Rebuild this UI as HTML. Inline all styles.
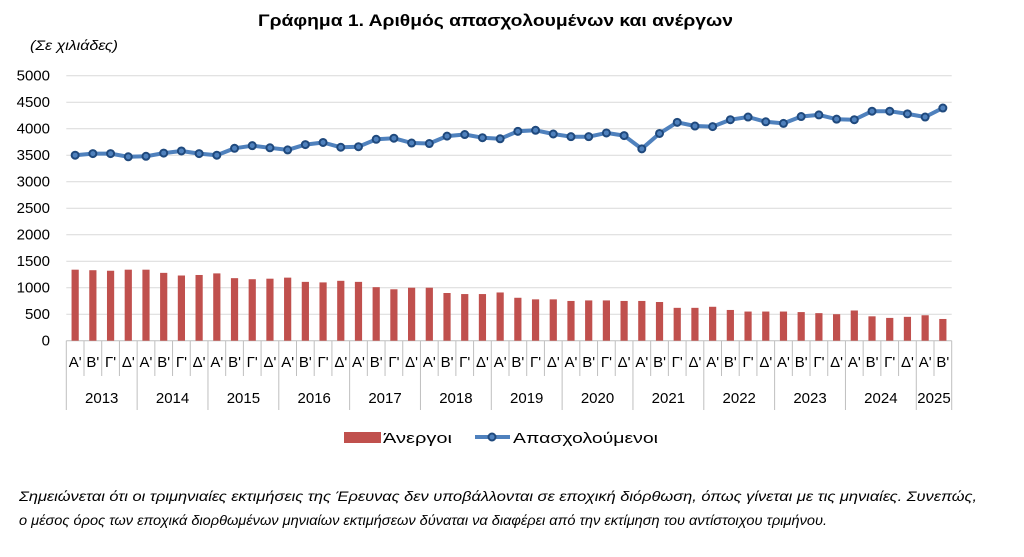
<!DOCTYPE html>
<html><head><meta charset="utf-8"><style>
html,body{margin:0;padding:0;background:#fff;width:1024px;height:557px;overflow:hidden}
svg{display:block;font-family:"Liberation Sans",sans-serif}
</style></head><body>
<svg id="s" width="1024" height="557" viewBox="0 0 1024 557" xmlns="http://www.w3.org/2000/svg">
<text x="258" y="26" font-size="17" font-weight="bold" textLength="475" lengthAdjust="spacingAndGlyphs">Γράφημα 1. Αριθμός απασχολουμένων και ανέργων</text>
<text x="30" y="50" font-size="14" font-style="italic" textLength="88" lengthAdjust="spacingAndGlyphs">(Σε χιλιάδες)</text>
<g id="g"></g>
<rect x="344" y="432" width="37" height="11" fill="#c0504d"/>
<text x="383" y="443" font-size="15" textLength="69" lengthAdjust="spacingAndGlyphs">Άνεργοι</text>
<line x1="475" y1="437" x2="510" y2="437" stroke="#4f81bd" stroke-width="4"/>
<circle cx="492" cy="437" r="3.5" fill="#4f81bd" stroke="#1f497d" stroke-width="2"/>
<text x="513" y="443" font-size="15" textLength="145" lengthAdjust="spacingAndGlyphs">Απασχολούμενοι</text>
<text x="19" y="501" font-size="14" font-style="italic" textLength="958" lengthAdjust="spacingAndGlyphs">Σημειώνεται ότι οι τριμηνιαίες εκτιμήσεις της Έρευνας δεν υποβάλλονται σε εποχική διόρθωση, όπως γίνεται με τις μηνιαίες. Συνεπώς,</text>
<text x="19" y="525" font-size="14" font-style="italic" textLength="808" lengthAdjust="spacingAndGlyphs">ο μέσος όρος των εποχικά διορθωμένων μηνιαίων εκτιμήσεων δύναται να διαφέρει από την εκτίμηση του αντίστοιχου τριμήνου.</text>
</svg>
<script>
var emp=[3500,3530,3530,3470,3480,3540,3580,3530,3500,3630,3680,3640,3600,3700,3740,3650,3660,3800,3820,3730,3720,3860,3890,3830,3810,3950,3970,3900,3850,3850,3920,3870,3620,3910,4120,4050,4040,4170,4220,4130,4100,4230,4260,4180,4170,4330,4330,4280,4220,4390];
var un=[1340,1330,1320,1340,1340,1280,1230,1240,1270,1180,1160,1170,1190,1110,1100,1130,1110,1010,970,1000,1000,900,880,880,910,810,780,780,750,760,760,750,750,730,620,620,640,580,550,550,550,540,520,500,570,460,430,450,480,410];
var X0=66.3,X1=951.7,W=(X1-X0)/50,Y0=340.7,K=265/5000,h='';
function y(v){return Y0-v*K}
for(var i=0;i<=10;i++){var yy=y(i*500);
 if(i>0)h+='<line x1="'+X0+'" x2="'+X1+'" y1="'+yy+'" y2="'+yy+'" stroke="#d9d9d9" stroke-width="1"/>';
 h+='<text x="50" y="'+(yy+5)+'" font-size="15" text-anchor="end">'+(i*500)+'</text>';}
h+='<line x1="'+X0+'" x2="'+X1+'" y1="'+Y0+'" y2="'+Y0+'" stroke="#bfbfbf"/>';
var q=["Α'","Β'","Γ'","Δ'"];
for(var i=0;i<50;i++){var cx=X0+(i+0.5)*W;
 h+='<rect x="'+(cx-3.6)+'" y="'+y(un[i])+'" width="7.2" height="'+(un[i]*K)+'" fill="#c0504d"/>';
 h+='<text x="'+cx+'" y="367" font-size="15" text-anchor="middle">'+q[i%4]+'</text>';}
for(var i=0;i<=50;i++){var xx=X0+i*W;h+='<line x1="'+xx+'" x2="'+xx+'" y1="'+Y0+'" y2="'+(i%4==0||i==50?410:376)+'" stroke="#bfbfbf"/>';}
for(var yr=0;yr<13;yr++){var a=X0+yr*4*W,b=Math.min(X0+(yr*4+4)*W,X1);
 h+='<text x="'+((a+b)/2)+'" y="403" font-size="15" text-anchor="middle">'+(2013+yr)+'</text>';}
var p='';for(var i=0;i<50;i++)p+=(X0+(i+0.5)*W).toFixed(1)+','+y(emp[i]).toFixed(1)+' ';
h+='<polyline points="'+p+'" fill="none" stroke="#4f81bd" stroke-width="4" stroke-linejoin="round"/>';
for(var i=0;i<50;i++)h+='<circle cx="'+(X0+(i+0.5)*W)+'" cy="'+y(emp[i])+'" r="3.5" fill="#4f81bd" stroke="#1f497d" stroke-width="2"/>';
document.getElementById('g').innerHTML=h;
</script>
</body></html>
